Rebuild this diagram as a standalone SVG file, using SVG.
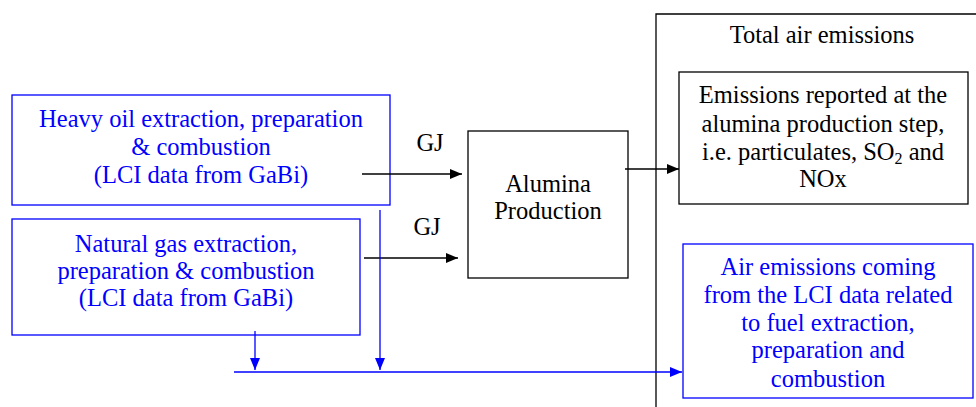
<svg xmlns="http://www.w3.org/2000/svg" width="976" height="407" viewBox="0 0 976 407">
<defs>
<style>
.bx{fill:#fff;stroke:#000;stroke-width:1.3}
.bb{fill:#fff;stroke:#0000ff;stroke-width:1.3}
.t{font-family:'Liberation Serif','DejaVu Serif',serif;font-size:24.5px;fill:#000;text-anchor:middle}
.tb{font-family:'Liberation Serif','DejaVu Serif',serif;font-size:24.5px;fill:#0000ff;text-anchor:middle}
.ck{stroke:#000;stroke-width:1.3;fill:none}
.cb{stroke:#0000ff;stroke-width:1.3;fill:none}
</style>
<marker id="ak" viewBox="0 0 12 10" refX="12" refY="5" markerWidth="12" markerHeight="10" markerUnits="userSpaceOnUse" orient="auto"><path d="M0,0 L12,5 L0,10 Z" fill="#000"/></marker>
<marker id="ab" viewBox="0 0 12 10" refX="12" refY="5" markerWidth="12" markerHeight="10" markerUnits="userSpaceOnUse" orient="auto"><path d="M0,0 L12,5 L0,10 Z" fill="#0000ff"/></marker>
</defs>
<g id="total">
<path class="ck" d="M656,420 V14 H990"/>
<text class="t" x="822" y="43">Total air emissions</text>
</g>
<g id="heavy-oil">
<rect class="bb" x="12" y="95" width="378" height="110"/>
<text class="tb" x="201" y="127">Heavy oil extraction, preparation</text>
<text class="tb" x="201" y="155">&amp; combustion</text>
<text class="tb" x="201" y="183">(LCI data from GaBi)</text>
</g>
<g id="natural-gas">
<rect class="bb" x="12" y="219" width="348" height="116"/>
<text class="tb" x="186" y="252">Natural gas extraction,</text>
<text class="tb" x="186" y="279">preparation &amp; combustion</text>
<text class="tb" x="186" y="306">(LCI data from GaBi)</text>
</g>
<g id="alumina">
<rect class="bx" x="468" y="131" width="160" height="147"/>
<text class="t" x="548" y="192">Alumina</text>
<text class="t" x="548" y="219">Production</text>
</g>
<g id="reported">
<rect class="bx" x="679" y="72" width="289" height="132"/>
<text class="t" x="823" y="103">Emissions reported at the</text>
<text class="t" x="823" y="132">alumina production step,</text>
<text class="t" x="823" y="160">i.e. particulates, SO<tspan font-size="16" dy="4">2</tspan><tspan dy="-4"> and</tspan></text>
<text class="t" x="823" y="187">NOx</text>
</g>
<g id="fuel-emissions">
<rect class="bb" x="683" y="244" width="290" height="154"/>
<text class="tb" x="828" y="275">Air emissions coming</text>
<text class="tb" x="828" y="303">from the LCI data related</text>
<text class="tb" x="828" y="331">to fuel extraction,</text>
<text class="tb" x="828" y="358">preparation and</text>
<text class="tb" x="828" y="387">combustion</text>
</g>
<g id="connectors">
<path class="ck" d="M362,174 H462" marker-end="url(#ak)"/>
<text class="t" x="430" y="151">GJ</text>
<path class="ck" d="M364,258 H458" marker-end="url(#ak)"/>
<text class="t" x="427" y="235">GJ</text>
<path class="ck" d="M625,169 H679" marker-end="url(#ak)"/>
<path class="cb" d="M380,210 V370" marker-end="url(#ab)"/>
<path class="cb" d="M255,331 V370" marker-end="url(#ab)"/>
<path class="cb" d="M234,372 H682" marker-end="url(#ab)"/>
</g>
</svg>
